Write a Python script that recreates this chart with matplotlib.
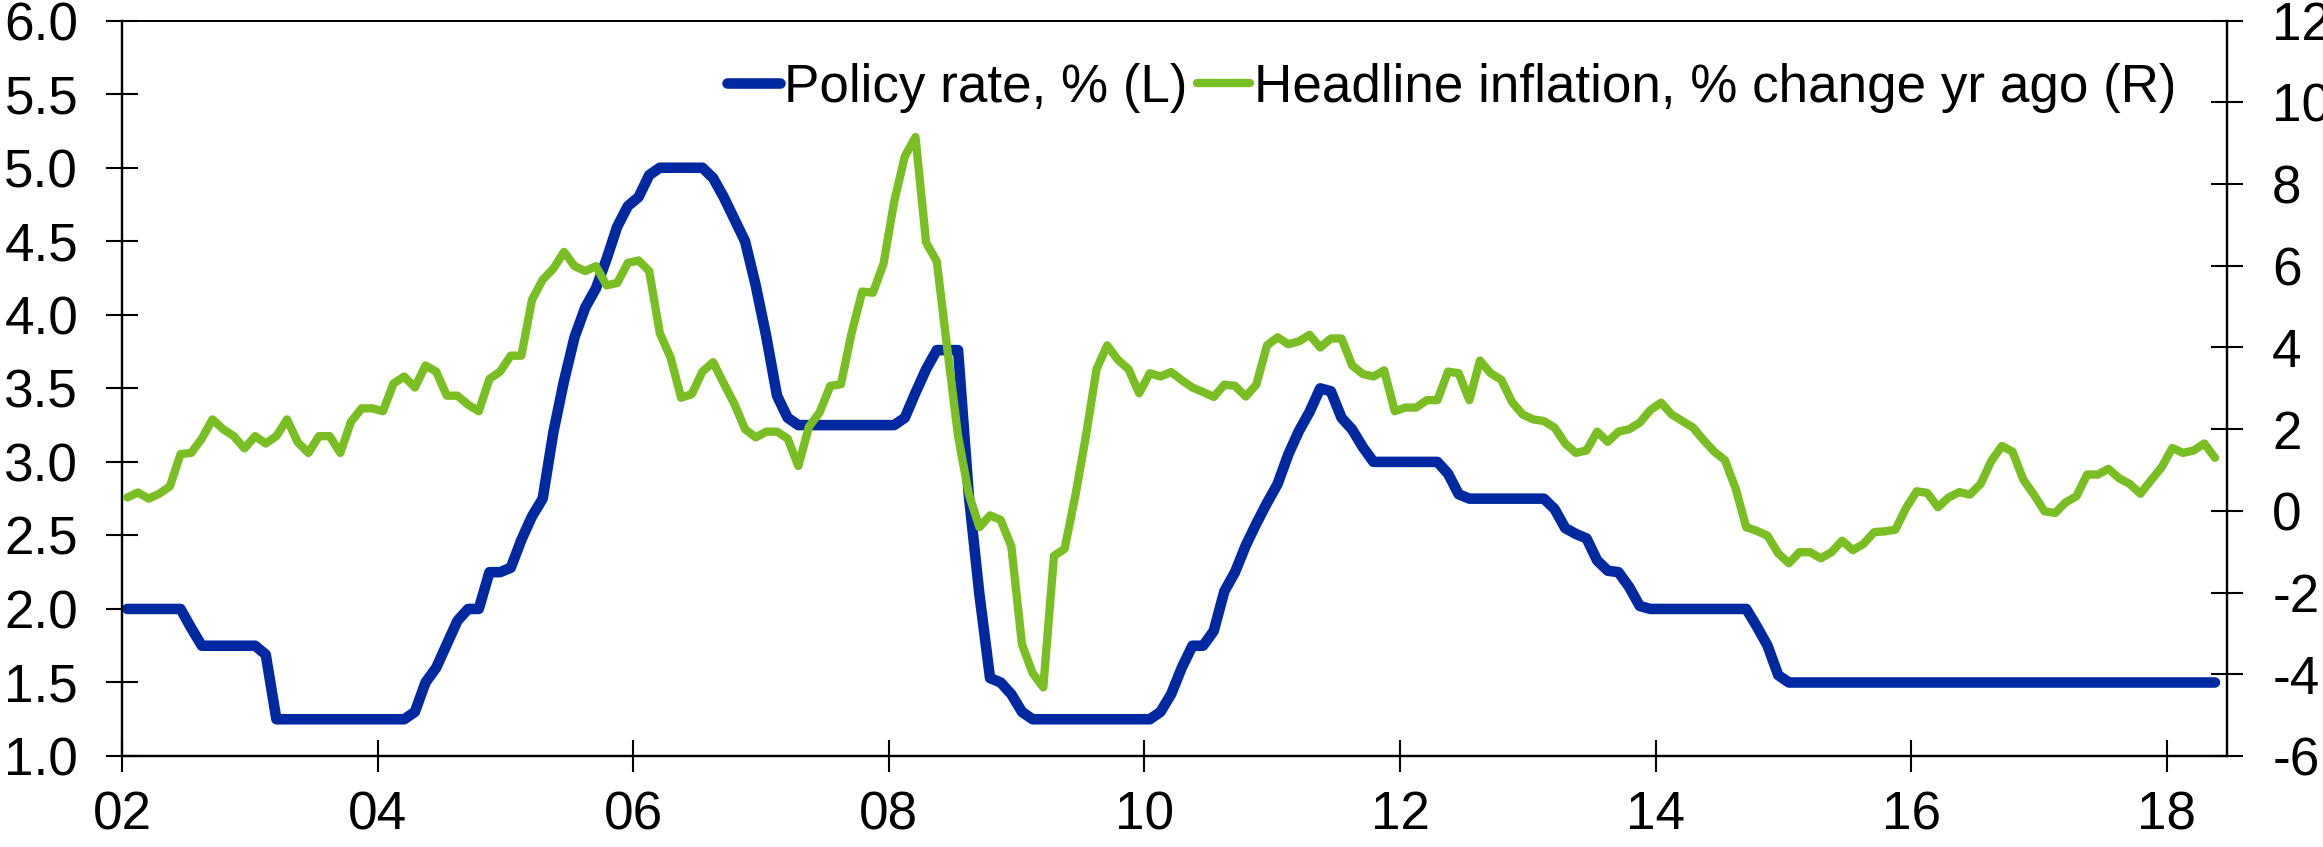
import matplotlib
matplotlib.use("Agg")
import matplotlib.pyplot as plt
from matplotlib.lines import Line2D
import numpy as np

plt.rcParams['font.family'] = ['Liberation Sans', 'DejaVu Sans']

# Monthly series (first point plotted at the start of 2002)
policy_rate = [
    2.00, 2.00, 2.00, 2.00, 2.00, 2.00, 1.87, 1.75, 1.75, 1.75,
    1.75, 1.75, 1.75, 1.69, 1.25, 1.25, 1.25, 1.25, 1.25, 1.25,
    1.25, 1.25, 1.25, 1.25, 1.25, 1.25, 1.25, 1.30, 1.50, 1.60,
    1.76, 1.92, 2.00, 2.00, 2.25, 2.25, 2.28, 2.47, 2.63, 2.75,
    3.20, 3.55, 3.85, 4.05, 4.18, 4.38, 4.60, 4.74, 4.80, 4.95,
    5.00, 5.00, 5.00, 5.00, 5.00, 4.93, 4.80, 4.65, 4.50, 4.20,
    3.85, 3.45, 3.30, 3.25, 3.25, 3.25, 3.25, 3.25, 3.25, 3.25,
    3.25, 3.25, 3.25, 3.30, 3.47, 3.63, 3.76, 3.76, 3.76, 2.78,
    2.10, 1.53, 1.50, 1.42, 1.30, 1.25, 1.25, 1.25, 1.25, 1.25,
    1.25, 1.25, 1.25, 1.25, 1.25, 1.25, 1.25, 1.30, 1.42, 1.60,
    1.75, 1.75, 1.85, 2.12, 2.25, 2.43, 2.58, 2.72, 2.85, 3.05,
    3.21, 3.34, 3.50, 3.48, 3.30, 3.22, 3.10, 3.00, 3.00, 3.00,
    3.00, 3.00, 3.00, 3.00, 2.92, 2.78, 2.75, 2.75, 2.75, 2.75,
    2.75, 2.75, 2.75, 2.75, 2.68, 2.55, 2.51, 2.48, 2.33, 2.26,
    2.25, 2.15, 2.02, 2.00, 2.00, 2.00, 2.00, 2.00, 2.00, 2.00,
    2.00, 2.00, 2.00, 1.88, 1.75, 1.55, 1.50, 1.50, 1.50, 1.50,
    1.50, 1.50, 1.50, 1.50, 1.50, 1.50, 1.50, 1.50, 1.50, 1.50,
    1.50, 1.50, 1.50, 1.50, 1.50, 1.50, 1.50, 1.50, 1.50, 1.50,
    1.50, 1.50, 1.50, 1.50, 1.50, 1.50, 1.50, 1.50, 1.50, 1.50,
    1.50, 1.50, 1.50, 1.50, 1.50, 1.50, 1.50,
]

headline_inflation = [
    0.33, 0.45, 0.30, 0.42, 0.60, 1.39, 1.42, 1.77, 2.24, 2.00,
    1.83, 1.53, 1.83, 1.65, 1.83, 2.24, 1.68, 1.42, 1.83, 1.83,
    1.42, 2.18, 2.51, 2.51, 2.44, 3.12, 3.29, 3.02, 3.56, 3.41,
    2.82, 2.82, 2.60, 2.44, 3.23, 3.41, 3.80, 3.80, 5.17, 5.66,
    5.93, 6.34, 5.99, 5.87, 5.99, 5.52, 5.58, 6.07, 6.13, 5.87,
    4.35, 3.76, 2.77, 2.86, 3.41, 3.64, 3.12, 2.62, 2.00, 1.80,
    1.94, 1.94, 1.77, 1.10, 2.06, 2.41, 3.06, 3.10, 4.35, 5.37,
    5.34, 6.05, 7.57, 8.68, 9.15, 6.57, 6.11, 3.94, 1.83, 0.42,
    -0.40, -0.11, -0.22, -0.87, -3.27, -3.97, -4.32, -1.10, -0.93, 0.36,
    1.83, 3.47, 4.05, 3.70, 3.47, 2.88, 3.37, 3.29, 3.40, 3.20,
    3.02, 2.91, 2.79, 3.09, 3.06, 2.80, 3.09, 4.05, 4.25, 4.08,
    4.15, 4.31, 4.00, 4.22, 4.22, 3.56, 3.35, 3.29, 3.44, 2.44,
    2.53, 2.53, 2.71, 2.71, 3.41, 3.37, 2.71, 3.68, 3.37, 3.21,
    2.67, 2.36, 2.24, 2.20, 2.04, 1.65, 1.42, 1.48, 1.94, 1.69,
    1.94, 2.00, 2.16, 2.47, 2.65, 2.36, 2.20, 2.04, 1.73, 1.45,
    1.24, 0.55, -0.40, -0.49, -0.61, -1.04, -1.28, -1.01, -1.01, -1.16,
    -1.01, -0.73, -0.96, -0.81, -0.52, -0.50, -0.46, 0.07, 0.48, 0.44,
    0.09, 0.33, 0.46, 0.40, 0.66, 1.22, 1.59, 1.45, 0.77, 0.40,
    -0.01, -0.05, 0.21, 0.36, 0.89, 0.89, 1.03, 0.80, 0.66, 0.42,
    0.75, 1.07, 1.54, 1.42, 1.48, 1.65, 1.30,
]

x_tick_years = [2002, 2004, 2006, 2008, 2010, 2012, 2014, 2016, 2018]
x_tick_labels = ["02", "04", "06", "08", "10", "12", "14", "16", "18"]
left_ticks = [1.0, 1.5, 2.0, 2.5, 3.0, 3.5, 4.0, 4.5, 5.0, 5.5, 6.0]
right_ticks = [-6, -4, -2, 0, 2, 4, 6, 8, 10, 12]
series_labels = ["Policy rate, % (L)", "Headline inflation, % change yr ago (R)"]

BLUE = "#0028A0"
GREEN = "#79BE22"
FS = 38.2
LW_BLUE = 7.6
LW_GREEN = 6.0

# decimal-year position of each monthly observation
x = 2002 + (np.arange(len(policy_rate)) + 0.5) / 12.0

fig = plt.figure(figsize=(23.23, 8.47), dpi=100)
ax = fig.add_axes([0.0525, 0.1074, 0.9062, 0.8682])
ax2 = ax.twinx()

ax.plot(x, policy_rate, color=BLUE, lw=LW_BLUE, solid_capstyle='round',
        solid_joinstyle='round', zorder=3)
ax2.plot(x, headline_inflation, color=GREEN, lw=LW_GREEN, solid_capstyle='round',
         solid_joinstyle='round', zorder=3)

ax.set_xlim(2002, 2018.47)
ax.set_ylim(1.0, 6.0)
ax2.set_ylim(-6, 12)

ax.set_xticks(x_tick_years)
ax.set_xticklabels(x_tick_labels)
ax.set_yticks(left_ticks)
ax.set_yticklabels([f"{v:.1f}" for v in left_ticks])
ax2.set_yticks(right_ticks)
ax2.set_yticklabels([f"{v:d}" for v in right_ticks])

ax.tick_params(axis='y', direction='inout', length=23, width=1.5,
               labelsize=FS, pad=20)
ax.tick_params(axis='x', direction='inout', length=23, width=1.5,
               labelsize=FS, pad=13)
ax2.tick_params(axis='y', direction='inout', length=23, width=1.5,
                labelsize=FS, pad=21)

for a in (ax, ax2):
    for s in ('left', 'bottom', 'right'):
        a.spines[s].set_linewidth(1.6)
    a.spines['top'].set_linewidth(1.2)

handles = [
    Line2D([0], [0], color=BLUE, lw=LW_BLUE, solid_capstyle='round'),
    Line2D([0], [0], color=GREEN, lw=LW_GREEN, solid_capstyle='round'),
]
leg = ax2.legend(handles, series_labels, loc='center right',
                 bbox_to_anchor=(0.976, 0.909), ncol=2, frameon=False,
                 fontsize=FS, handlelength=1.0, handletextpad=0.08,
                 columnspacing=0.18, borderpad=0, borderaxespad=0)

fig.savefig("out.png", dpi=100)
